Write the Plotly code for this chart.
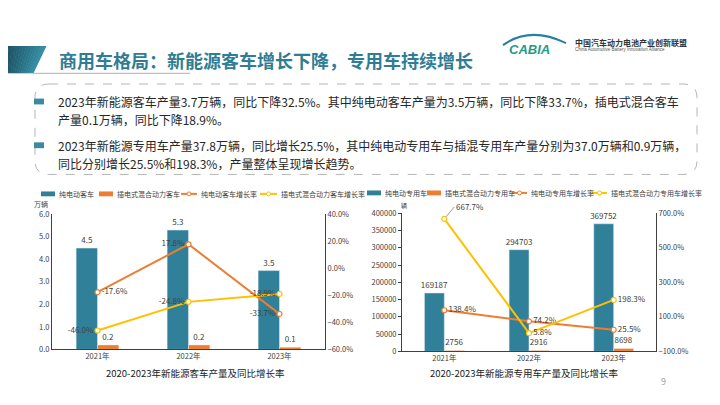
import plotly.graph_objects as go

# ---------------- data ----------------
years = ["2021年", "2022年", "2023年"]

bus_ev = [4.5, 5.3, 3.5]              # 万辆
bus_phev = [0.2, 0.2, 0.1]            # 万辆
bus_ev_rate = [-17.6, 17.8, -33.7]    # %
bus_phev_rate = [-46.0, -24.8, -18.9] # %

spec_ev = [169187, 294703, 369752]    # 辆
spec_phev = [2756, 2916, 8698]        # 辆
spec_ev_rate = [138.4, 74.2, 25.5]    # %
spec_phev_rate = [667.7, 5.8, 198.3]  # %

bus_names = ["纯电动客车", "插电式混合动力客车", "纯电动客车增长率", "插电式混合动力客车增长率"]
spec_names = ["纯电动专用车", "插电式混合动力专用车", "纯电动专用车增长率", "插电式混合动力专用车增长率"]

title_text = "商用车格局：新能源客车增长下降，专用车持续增长"
body_lines = [
    "2023年新能源客车产量3.7万辆，同比下降32.5%。其中纯电动客车产量为3.5万辆，同比下降33.7%，插电式混合客车",
    "产量0.1万辆，同比下降18.9%。",
    "2023年新能源专用车产量37.8万辆，同比增长25.5%，其中纯电动专用车与插混专用车产量分别为37.0万辆和0.9万辆，",
    "同比分别增长25.5%和198.3%，产量整体呈现增长趋势。",
]
bus_title = "2020-2023年新能源客车产量及同比增长率"
spec_title = "2020-2023年新能源专用车产量及同比增长率"

# ---------------- style ----------------
OFF = 8                      # page body margin of the browser
W, H = 720 - OFF, 405 - OFF
TEAL = "#31809a"
ORANGE = "#ed7d31"
YELLOW = "#ffc000"
FONT = "Noto Sans CJK SC, Noto Sans, sans-serif"
AX = "#404040"


def px(x):
    return (x - OFF) / W


def py(y):
    return 1 - (y - OFF) / H


fig = go.Figure()

bar_kw = dict(textposition="outside", textfont=dict(size=8, color=AX), cliponaxis=False,
              constraintext="none")

# ---------------- left chart (bus) ----------------
fig.add_trace(go.Bar(x=years, y=bus_ev, name=bus_names[0], marker_color=TEAL,
                     text=[f"{v:.1f}" for v in bus_ev], xaxis="x", yaxis="y", offsetgroup="a", **bar_kw))
fig.add_trace(go.Bar(x=years, y=bus_phev, name=bus_names[1], marker_color=ORANGE,
                     text=[f"{v:.1f}" for v in bus_phev], xaxis="x", yaxis="y", offsetgroup="b", **bar_kw))
fig.add_trace(go.Scatter(x=years, y=bus_ev_rate, name=bus_names[2], mode="lines+markers+text",
                         line=dict(color=ORANGE, width=2),
                         marker=dict(symbol="circle", size=5, color="white", line=dict(color=ORANGE, width=1.2)),
                         text=[f"{v:.1f}%" for v in bus_ev_rate],
                         textposition=["middle right", "middle left", "middle left"],
                         textfont=dict(size=8, color=AX), cliponaxis=False,
                         xaxis="x", yaxis="y2"))
fig.add_trace(go.Scatter(x=years, y=bus_phev_rate, name=bus_names[3], mode="lines+markers+text",
                         line=dict(color=YELLOW, width=2),
                         marker=dict(symbol="circle", size=5, color="white", line=dict(color=YELLOW, width=1.2)),
                         text=[f"{v:.1f}%" for v in bus_phev_rate],
                         textposition=["middle left", "middle left", "middle left"],
                         textfont=dict(size=8, color=AX), cliponaxis=False,
                         xaxis="x", yaxis="y2"))

# ---------------- right chart (special vehicles) ----------------
fig.add_trace(go.Bar(x=years, y=spec_ev, name=spec_names[0], marker_color=TEAL,
                     text=[f"{v:d}" for v in spec_ev], xaxis="x2", yaxis="y3", offsetgroup="a", **bar_kw))
fig.add_trace(go.Bar(x=years, y=spec_phev, name=spec_names[1], marker_color=ORANGE,
                     text=[f"{v:d}" for v in spec_phev], xaxis="x2", yaxis="y3", offsetgroup="b", **bar_kw))
fig.add_trace(go.Scatter(x=years, y=spec_ev_rate, name=spec_names[2], mode="lines+markers+text",
                         line=dict(color=ORANGE, width=2),
                         marker=dict(symbol="circle", size=5, color="white", line=dict(color=ORANGE, width=1.2)),
                         text=[f"{v:.1f}%" for v in spec_ev_rate],
                         textposition="middle right",
                         textfont=dict(size=8, color=AX), cliponaxis=False,
                         xaxis="x2", yaxis="y4"))
fig.add_trace(go.Scatter(x=years, y=spec_phev_rate, name=spec_names[3], mode="lines+markers+text",
                         line=dict(color=YELLOW, width=2),
                         marker=dict(symbol="circle", size=5, color="white", line=dict(color=YELLOW, width=1.2)),
                         text=[""] + [f"{v:.1f}%" for v in spec_phev_rate[1:]],
                         textposition="middle right",
                         textfont=dict(size=8, color=AX), cliponaxis=False,
                         xaxis="x2", yaxis="y4"))

axis_common = dict(showgrid=False, zeroline=False, showline=True, linecolor=AX, linewidth=1,
                   tickfont=dict(size=7.5, color=AX, family=FONT), fixedrange=True)

fig.update_layout(
    width=W, height=H, autosize=False,
    margin=dict(l=0, r=0, t=0, b=0),
    paper_bgcolor="white", plot_bgcolor="white",
    font=dict(family=FONT, color=AX),
    showlegend=False,
    barmode="group", bargap=0.53, bargroupgap=0,
    xaxis=dict(domain=[px(52), px(325)], anchor="y", **axis_common, ticks=""),
    yaxis=dict(domain=[py(353), py(214)], anchor="x", range=[0, 6], dtick=1, tickformat=".1f",
               ticks="", **axis_common),
    yaxis2=dict(overlaying="y", side="right", anchor="x", range=[-60, 40], dtick=20, tick0=-60,
                tickformat=".1f", ticksuffix="%", ticks="", **axis_common),
    xaxis2=dict(domain=[px(402), px(656)], anchor="y3", **axis_common, ticks=""),
    yaxis3=dict(domain=[py(355), py(213)], anchor="x2", range=[0, 400000], dtick=50000,
                tickformat="d", ticks="outside", ticklen=3, tickcolor=AX, **axis_common),
    yaxis4=dict(overlaying="y3", side="right", anchor="x2", range=[-100, 700], dtick=200, tick0=-100,
                tickformat=".1f", ticksuffix="%", ticks="", **axis_common),
)

shapes = []
ann = []

# header band with gradient (slices)
N = 16
c0 = (0x1a, 0x47, 0x58)
c1 = (0x36, 0x90, 0xa6)
for i in range(N):
    t0, t1 = 46 * i / N, 46 * (i + 1) / N
    b0, b1 = 33 * i / N, 33 * (i + 1) / N
    f = (i + 0.5) / N
    col = "rgb(%d,%d,%d)" % tuple(int(c0[k] + (c1[k] - c0[k]) * f) for k in range(3))
    path = f"M{px(t0)},{py(41)} L{px(t1 + 0.5)},{py(41)} L{px(b1 + 0.5)},{py(69)} L{px(b0)},{py(69)} Z"
    shapes.append(dict(type="path", xref="paper", yref="paper", path=path,
                       fillcolor=col, line=dict(width=0)))

# underline
shapes.append(dict(type="line", xref="paper", yref="paper", x0=px(33), x1=px(190), y0=py(69), y1=py(69),
                   line=dict(color="#b0b0b0", width=1)))

# dashed rounded box
x0, x1, y0, y1, r = 35, 697, 80, 173, 14
path = (f"M{px(x0 + r)},{py(y0)} L{px(x1 - r)},{py(y0)} Q{px(x1)},{py(y0)} {px(x1)},{py(y0 + r)} "
        f"L{px(x1)},{py(y1 - r)} Q{px(x1)},{py(y1)} {px(x1 - r)},{py(y1)} "
        f"L{px(x0 + r)},{py(y1)} Q{px(x0)},{py(y1)} {px(x0)},{py(y1 - r)} "
        f"L{px(x0)},{py(y0 + r)} Q{px(x0)},{py(y0)} {px(x0 + r)},{py(y0)} Z")
shapes.append(dict(type="path", xref="paper", yref="paper", path=path,
                   line=dict(color="#b5b5b5", width=1, dash="dash")))

# bullets
for yb in (98, 143):
    shapes.append(dict(type="rect", xref="paper", yref="paper", x0=px(34), x1=px(44),
                       y0=py(yb - 3), y1=py(yb + 3), fillcolor="#3a8aa0", line=dict(width=0)))

# title
ann.append(dict(text=f"<b>{title_text}</b>", x=px(57), y=py(55), xref="paper", yref="paper",
                xanchor="left", yanchor="middle", showarrow=False,
                font=dict(size=18, color="#2f7d95", family=FONT)))

# body lines
for txt, yl in zip(body_lines, (98, 117, 143, 162)):
    ann.append(dict(text=txt, x=px(56), y=py(yl), xref="paper", yref="paper", xanchor="left",
                    yanchor="middle", showarrow=False, font=dict(size=12, color="#262626", family=FONT)))

# logo
shapes.append(dict(type="path", xref="paper", yref="paper",
                   path=f"M{px(503)},{py(40)} Q{px(530)},{py(20)} {px(566)},{py(38)}",
                   line=dict(color="#2a7fa0", width=2)))
ann.append(dict(text="<i><b>CABIA</b></i>", x=px(529), y=py(45), xref="paper", yref="paper",
                xanchor="center", yanchor="middle", showarrow=False,
                font=dict(size=13, color="#1f9a8a", family="Liberation Sans, Arial")))
ann.append(dict(text="<b>中国汽车动力电池产业创新联盟</b>", x=px(573), y=py(37), xref="paper", yref="paper",
                xanchor="left", yanchor="middle", showarrow=False,
                font=dict(size=8, color="#333333", family=FONT)))
ann.append(dict(text="China Automotive Battery Innovation Alliance", x=px(573), y=py(44), xref="paper",
                yref="paper", xanchor="left", yanchor="middle", showarrow=False,
                font=dict(size=4.5, color="#555555", family="Liberation Sans, Arial")))


# manual legends
def legend(entries, ycen, names):
    colors = [TEAL, ORANGE, ORANGE, YELLOW]
    kinds = ["bar", "bar", "line", "line"]
    for (xs, xe), name, col, kind in zip(entries, names, colors, kinds):
        if kind == "bar":
            shapes.append(dict(type="rect", xref="paper", yref="paper", x0=px(xs), x1=px(xe),
                               y0=py(ycen + 2.5), y1=py(ycen - 2.5), fillcolor=col, line=dict(width=0)))
        else:
            shapes.append(dict(type="line", xref="paper", yref="paper", x0=px(xs), x1=px(xe),
                               y0=py(ycen), y1=py(ycen), line=dict(color=col, width=2)))
            m = (xs + xe) / 2
            shapes.append(dict(type="circle", xref="paper", yref="paper", x0=px(m - 2), x1=px(m + 2),
                               y0=py(ycen + 2), y1=py(ycen - 2), fillcolor="white",
                               line=dict(color=col, width=1)))
        ann.append(dict(text=name, x=px(xe + 2), y=py(ycen), xref="paper", yref="paper", xanchor="left",
                        yanchor="middle", showarrow=False, font=dict(size=7, color=AX, family=FONT)))


legend([(41, 55), (99, 113), (181, 197), (260, 277)], 193, bus_names)
legend([(367, 381), (427, 441), (512, 527), (592, 607)], 192, spec_names)

# axis unit labels
ann.append(dict(text="万辆", x=px(41), y=py(203), xref="paper", yref="paper", showarrow=False,
                xanchor="center", yanchor="middle", font=dict(size=7, color=AX, family=FONT)))
ann.append(dict(text="辆", x=px(404), y=py(205), xref="paper", yref="paper", showarrow=False,
                xanchor="center", yanchor="middle", font=dict(size=6, color=AX, family=FONT)))

# leader label for first PHEV special rate
ann.append(dict(text=f"{spec_phev_rate[0]:.1f}%", x=years[0], y=spec_phev_rate[0], xref="x2", yref="y4",
                showarrow=True, arrowhead=0, arrowwidth=0.8, arrowcolor="#808080", ax=10, ay=-12,
                standoff=3, xanchor="left", yanchor="middle", font=dict(size=8, color=AX, family=FONT)))

# chart titles
ann.append(dict(text=bus_title, x=px(196), y=py(377), xref="paper", yref="paper", showarrow=False,
                xanchor="center", yanchor="middle", font=dict(size=9.5, color="#222222", family=FONT)))
ann.append(dict(text=spec_title, x=px(524), y=py(377), xref="paper", yref="paper", showarrow=False,
                xanchor="center", yanchor="middle", font=dict(size=9.5, color="#222222", family=FONT)))

# page number
ann.append(dict(text="9", x=px(663), y=py(386), xref="paper", yref="paper", showarrow=False,
                xanchor="center", yanchor="middle", font=dict(size=9, color="#a0a0a0", family=FONT)))

fig.update_layout(shapes=shapes, annotations=ann)
fig.write_html("out.html")
